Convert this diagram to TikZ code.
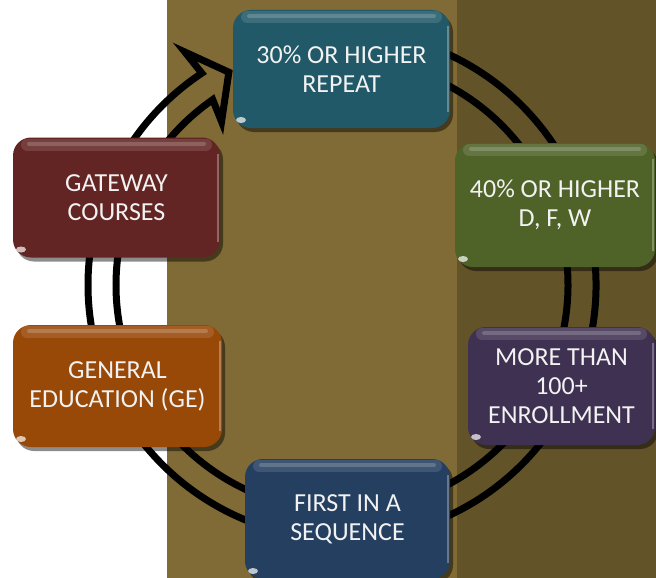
\documentclass[tikz,border=0pt]{standalone}
\usepackage{fontspec}
\setmainfont{Carlito}
\usepackage{xcolor}
\usepackage{tikz}
\usetikzlibrary{calc,shadows}
\definecolor{TanLight}{RGB}{128,106,53}
\definecolor{TanDark}{RGB}{98,83,40}
\definecolor{CardTeal}{RGB}{33,89,104}
\definecolor{CardRed}{RGB}{99,37,35}
\definecolor{CardGreen}{RGB}{79,98,40}
\definecolor{CardOrange}{RGB}{152,72,7}
\definecolor{CardPurple}{RGB}{63,49,81}
\definecolor{CardBlue}{RGB}{36,63,96}
\definecolor{CardText}{RGB}{242,242,242}
\tikzset{
  card/.style={rounded corners=18pt, minimum width=207pt, minimum height=120pt, inner sep=0pt,
    align=center, text=CardText, font=\fontsize{26}{29}\selectfont,
    drop shadow={shadow xshift=3pt, shadow yshift=-4pt, opacity=0.45, fill=black},
    path picture={
      \draw[white, opacity=0.12, line width=12pt, line cap=round]
        ([xshift=14pt,yshift=-7pt]path picture bounding box.north west) --
        ([xshift=-14pt,yshift=-7pt]path picture bounding box.north east);
      \draw[white, opacity=0.18, line width=4pt, line cap=round]
        ([xshift=16pt,yshift=-6pt]path picture bounding box.north west) --
        ([xshift=-16pt,yshift=-6pt]path picture bounding box.north east);
      \draw[white, opacity=0.3, line width=2pt]
        ([xshift=-2pt,yshift=-16pt]path picture bounding box.north east) --
        ([xshift=-2pt,yshift=16pt]path picture bounding box.south east);
      \fill[white, opacity=0.7, rotate around={45:([xshift=8pt,yshift=8pt]path picture bounding box.south west)}]
        ([xshift=8pt,yshift=8pt]path picture bounding box.south west) ellipse[x radius=5pt, y radius=3pt];
    }},
  ring/.style={line width=7pt, black, line join=miter},
}
\begin{document}
\begin{tikzpicture}[x=1pt, y=-1pt]
  \useasboundingbox (0,0) rectangle (656,578);
  \fill[white] (0,0) rectangle (656,578);
  \fill[TanLight] (167,0) rectangle (457,578);
  \fill[TanDark] (457,0) rectangle (656,578);
  % cycle arrow behind the cards
  \coordinate (hub) at (342,285);
  \draw[ring] ($(hub)+(-100:254)$) arc[start angle=-100, end angle=236.5, radius=254]
    -- ($(hub)+(236:281)$) -- ($(hub)+(242:241)$) -- ($(hub)+(233.6:203)$) -- ($(hub)+(235.1:226)$)
    arc[start angle=235.1, end angle=-100, radius=226] -- cycle;
  \node[card, fill=CardTeal, minimum width=217pt, minimum height=118pt] (repeat) at (341.5,69) {30\% OR HIGHER\\REPEAT};
  \node[card, fill=CardRed] (gateway) at (116.5,197.5) {GATEWAY\\COURSES};
  \node[card, fill=CardGreen, minimum width=200pt, minimum height=124pt] (dfw) at (555,205) {40\% OR HIGHER\\D, F, W};
  \node[card, fill=CardOrange, minimum width=209pt, minimum height=122pt] (gened) at (117.5,386) {GENERAL\\EDUCATION (GE)};
  \node[card, fill=CardPurple, minimum width=187pt, minimum height=118pt] (enroll) at (561.5,386) {MORE THAN\\100+\\ENROLLMENT};
  \node[card, fill=CardBlue, minimum width=205pt] (sequence) at (347.5,519) {FIRST IN A\\SEQUENCE};
\end{tikzpicture}
\end{document}
